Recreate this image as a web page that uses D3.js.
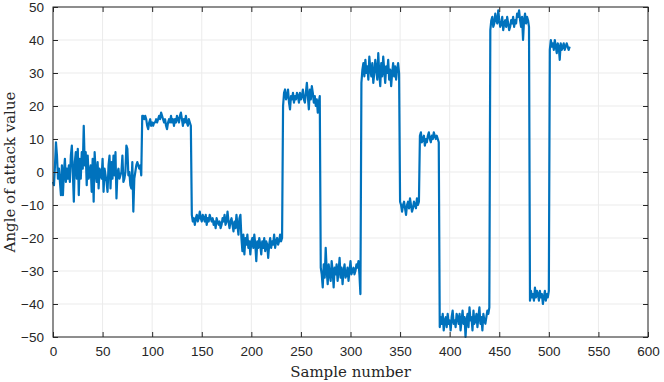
<!DOCTYPE html>
<html>
<head>
<meta charset="utf-8">
<script src="https://cdn.jsdelivr.net/npm/d3@7"></script>
<style>
  body { margin: 0; background: #fff; }
  svg { display: block; }
  .tick text { font-family: "Liberation Sans", Arial, sans-serif; font-size: 13.5px; fill: #262626; }
</style>
</head>
<body>
<div id="chart"></div>
<script>
const width = 664;
const height = 382;
const margin = {top: 7, right: 16, bottom: 45, left: 53};

const xTicks = [0, 50, 100, 150, 200, 250, 300, 350, 400, 450, 500, 550, 600];
const yTicks = [-50, -40, -30, -20, -10, 0, 10, 20, 30, 40, 50];

// angle of attack (0..521)
const aoaA = [
  -3, -4, 2, 9, 5, -2, 1, -3, -7, 2, -7, 0, 4, -3, 1, -2, 2, -3, 5, 8,
  0, -9, 3, 6, -2, 7, -7, 4, -2, 6, 1, 14, 2, 6, -4, 5, -2, 0, 2, -6,
  4, -9, 6, 0, -3, 3, -5, 1, 0, -2, 4, -6, 1, -1, -3, -6, 2, 5, -5, 3,
  -2, 5, -1, 6, -8, 0, 1, -2, -1, 0, 5, -3, -2, 0, 8, 7, -1, 0, -4, -5,
  3, -12, -2, 0, 2, 3, 2, 1, 2, -1
];
const aoaB = [
  17, 17, 16, 17, 16, 14, 13, 15, 16, 14, 15, 14, 15, 15, 16, 15, 16, 17, 16, 18,
  17, 16, 15, 16, 14, 13, 15, 16, 15, 17, 15, 16, 14, 16, 15, 17, 16, 15, 17, 18,
  16, 14, 16, 15, 17, 15, 14, 16, 15, 14
];
const aoaC = [
  -13, -15, -14, -16, -14, -13, -15, -14, -12, -14, -15, -13, -14, -15, -13, -16, -14, -15, -13, -14,
  -15, -14, -16, -15, -17, -14, -15, -16, -15, -17, -16, -14, -15, -13, -16, -15, -12, -15, -17, -15,
  -14, -16, -18, -15, -17, -13, -16, -19, -14, -13, -20, -24, -19, -25, -20, -22, -19, -23, -21, -25,
  -21, -20, -23, -19, -22, -27, -21, -23, -20, -22, -25, -21, -23, -20, -24, -21, -22, -26, -22, -20,
  -23, -21, -22, -19, -23, -21, -20, -22, -21, -19, -21, -20
];
const aoaD = [
  20, 24, 25, 22, 23, 25, 21, 19, 23, 22, 24, 21, 23, 22, 24, 23, 21, 24, 22, 23,
  25, 22, 21, 24, 27, 23, 19, 25, 22, 26, 24, 21, 23, 20, 22, 18, 21, 23
];
const aoaE = [
  -29, -31, -35, -28, -32, -23, -30, -34, -28, -31, -33, -27, -30, -35, -29, -31, -28, -33, -30, -26,
  -32, -29, -34, -30, -28, -32, -31, -29, -33, -30, -27, -31, -30, -29, -31, -30, -28, -29, -27, -31,
  -37
];
const aoaF = [
  27, 31, 33, 29, 34, 30, 32, 28, 35, 31, 29, 33, 27, 30, 34, 31, 28, 36, 30, 26,
  33, 29, 35, 31, 27, 32, 30, 34, 28, 31, 26, 30, 33, 29, 32, 28, 31, 33, 30
];
const aoaG = [-9, -10, -12, -10, -9, -11, -13, -10, -9, -11, -8, -10, -12, -11, -9, -10, -11, -8, -10, -9];
const aoaH = [11, 12, 9, 10, 11, 8, 10, 9, 11, 12, 10, 9, 11, 10, 12, 11, 10, 11, 10, 9];
const aoaI = [
  -47, -44, -46, -43, -48, -45, -44, -47, -43, -46, -45, -48, -44, -42, -46, -45, -47, -43, -44, -46,
  -43, -48, -45, -42, -46, -44, -50, -45, -43, -47, -41, -45, -44, -48, -42, -46, -45, -43, -47, -44,
  -41, -46, -44, -48, -43, -45, -46, -44, -42, -43, -41
];
const aoaJ = [
  43, 46, 47, 44, 45, 48, 46, 45, 49, 46, 44, 45, 47, 43, 45, 46, 44, 47, 45, 43,
  44, 46, 45, 47, 44, 46, 45, 48, 47, 49, 46, 44, 47, 40, 46, 48, 45, 47, 46, 44
];
const aoaK = [-39, -36, -38, -37, -39, -35, -38, -36, -37, -39, -36, -38, -37, -40, -38, -36, -39, -37, -38, -36];
const aoaL = [37, 40, 38, 39, 37, 40, 38, 36, 39, 38, 34, 39, 37, 38, 39, 37, 38, 39, 38, 37, 38];

const aoa = [].concat(aoaA, aoaB, aoaC, aoaD, aoaE, aoaF, aoaG, aoaH, aoaI, aoaJ, aoaK, aoaL);

const svg = d3.select("#chart")
    .append("svg")
    .attr("width", width)
    .attr("height", height);

const iw = width - margin.left - margin.right;
const ih = height - margin.top - margin.bottom;

const x = d3.scaleLinear().domain([0, 600]).range([margin.left, margin.left + iw]);
const y = d3.scaleLinear().domain([-50, 50]).range([margin.top + ih, margin.top]);

// grid
svg.append("g")
    .selectAll("line.vx")
    .data(xTicks)
    .join("line")
    .attr("x1", d => x(d)).attr("x2", d => x(d))
    .attr("y1", y(-50)).attr("y2", y(50))
    .attr("stroke", "#ebebeb");
svg.append("g")
    .selectAll("line.hy")
    .data(yTicks)
    .join("line")
    .attr("x1", x(0)).attr("x2", x(600))
    .attr("y1", d => y(d)).attr("y2", d => y(d))
    .attr("stroke", "#ebebeb");

// data line
const line = d3.line()
    .x((d, i) => x(i))
    .y(d => y(d));

svg.append("path")
    .datum(aoa)
    .attr("d", line)
    .attr("fill", "none")
    .attr("stroke", "#0072bd")
    .attr("stroke-width", 2.2)
    .attr("stroke-linejoin", "round");

// axes (ticks inside, box on all sides)
const axisColor = "#262626";
const styleAxis = g => {
    g.select(".domain").remove();
    g.selectAll(".tick line").attr("stroke", axisColor);
};

svg.append("g")
    .attr("transform", `translate(0,${y(-50)})`)
    .call(d3.axisBottom(x).tickValues(xTicks).tickSizeInner(-5).tickPadding(9))
    .call(styleAxis);
svg.append("g")
    .attr("transform", `translate(0,${y(50)})`)
    .call(d3.axisTop(x).tickValues(xTicks).tickSizeInner(-5).tickFormat(""))
    .call(styleAxis);
svg.append("g")
    .attr("transform", `translate(${x(0)},0)`)
    .call(d3.axisLeft(y).tickValues(yTicks).tickSizeInner(-5).tickPadding(9))
    .call(styleAxis);
svg.append("g")
    .attr("transform", `translate(${x(600)},0)`)
    .call(d3.axisRight(y).tickValues(yTicks).tickSizeInner(-5).tickFormat(""))
    .call(styleAxis);

svg.append("rect")
    .attr("x", x(0)).attr("y", y(50))
    .attr("width", x(600) - x(0)).attr("height", y(-50) - y(50))
    .attr("fill", "none")
    .attr("stroke", axisColor)
    .attr("stroke-width", 1);

// labels
svg.append("text")
    .attr("x", (x(0) + x(600)) / 2)
    .attr("y", 377)
    .attr("text-anchor", "middle")
    .attr("font-family", "'DejaVu Serif', 'Liberation Serif', serif")
    .attr("font-size", 15)
    .attr("fill", axisColor)
    .text("Sample number");

svg.append("text")
    .attr("transform", `translate(15,${(y(50) + y(-50)) / 2}) rotate(-90)`)
    .attr("text-anchor", "middle")
    .attr("font-family", "'DejaVu Serif', 'Liberation Serif', serif")
    .attr("font-size", 15)
    .attr("fill", axisColor)
    .text("Angle of attack value");
</script>
</body>
</html>
